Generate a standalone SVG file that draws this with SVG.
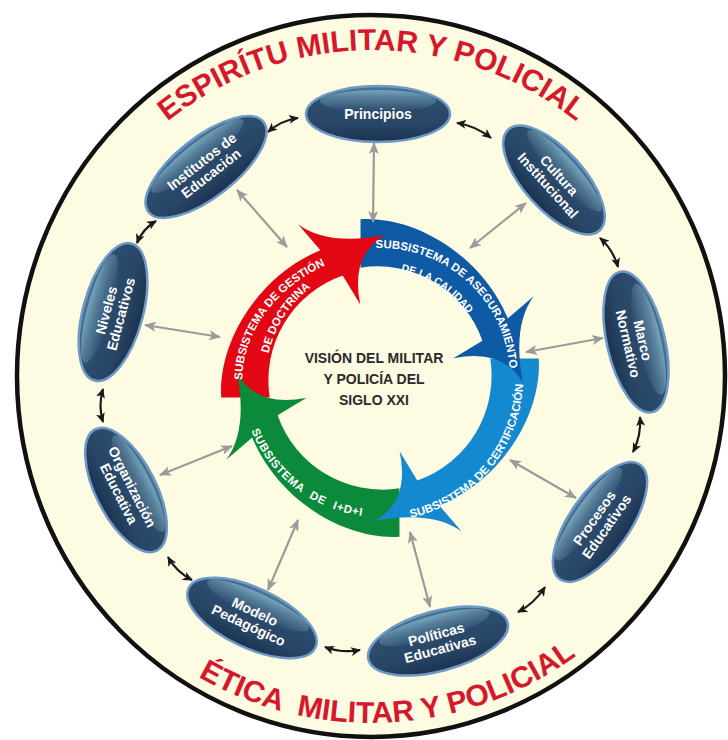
<svg xmlns="http://www.w3.org/2000/svg" width="728" height="740" viewBox="0 0 728 740">
<defs>
<style>
.node{fill:url(#ng);stroke:#6F9AC6;stroke-width:2.5}
.gloss{fill:url(#gl)}
.nt{font-family:"Liberation Sans",Arial,sans-serif;font-weight:bold;font-size:14px;fill:#fff;text-anchor:middle}
.title{font-family:"Liberation Sans",Arial,sans-serif;font-weight:bold;font-size:30px;fill:#D7182A}
.rt{font-family:"Liberation Sans",Arial,sans-serif;font-weight:bold;font-size:11.5px;fill:#fff}
.ct{font-family:"Liberation Sans",Arial,sans-serif;font-weight:bold;font-size:14px;fill:#2a2a2a;text-anchor:middle}
.ga{fill:none;stroke:#9B9B9B;stroke-width:2.2;marker-start:url(#mg);marker-end:url(#mg)}
.ba{fill:none;stroke:#1A1A1A;stroke-width:2.2;marker-start:url(#mb);marker-end:url(#mb)}
</style>
<linearGradient id="ng" x1="0" y1="0" x2="0" y2="1">
<stop offset="0" stop-color="#4F7D9E"/>
<stop offset="0.2" stop-color="#2D4F71"/>
<stop offset="0.7" stop-color="#284565"/>
<stop offset="1" stop-color="#1B3250"/>
</linearGradient>
<linearGradient id="gl" x1="0" y1="0" x2="0" y2="1">
<stop offset="0" stop-color="#9FD0E0" stop-opacity="0.55"/>
<stop offset="1" stop-color="#9FD0E0" stop-opacity="0"/>
</linearGradient>
<marker id="mg" markerUnits="userSpaceOnUse" markerWidth="12" markerHeight="10" refX="11" refY="5" orient="auto-start-reverse" viewBox="0 0 12 10"><path d="M0,0 L12,5 L0,10 L3,5 Z" fill="#9B9B9B"/></marker>
<marker id="mb" markerUnits="userSpaceOnUse" markerWidth="10" markerHeight="9" refX="9" refY="4.5" orient="auto-start-reverse" viewBox="0 0 10 9"><path d="M0,0 L10,4.5 L0,9 L2.5,4.5 Z" fill="#1A1A1A"/></marker>
<path id="bandP" d="M269.7,397.4 L221.2,397.5 C218,340 260,275 320.4,250.2 L324.9,248.2 L346.3,274.3 L342.7,275.6 A111,111 0 0 0 269.7,397.4 Z"/>
<path id="headP" d="M320.4,250.2 L298.3,224.4 Q328,246 385,235 Q350,255 360.3,304.6 L342.7,275.6 Z"/>
<path id="tp-top" d="M49,321 A328,328 0 0 1 695,321"/>
<path id="tp-bot" d="M29.3,436.3 A347,347 0 0 0 712.7,436.3"/>
<path id="tr1" d="M243.3,397.2 C234.4,334.2 280.9,278.7 341.4,259.1"/>
<path id="tr2" d="M266.4,387.9 A114,114 0 0 1 341.0,270.9"/>
<path id="tb1" d="M361.9,249.3 A130,130 0 0 1 509.9,382.5"/>
<path id="tb2" d="M370.5,269.4 A109,109 0 0 1 482.4,340.7"/>
<path id="tl1" d="M392.5,520.5 A143,143 0 0 0 522.5,365.5"/>
<path id="tg1" d="M241.5,390.1 A139,139 0 0 0 404.1,514.9"/>
</defs>

<rect width="728" height="740" fill="#ffffff"/>
<ellipse id="outer-circle" cx="371" cy="376" rx="354" ry="361" fill="#FEFBE3" stroke="#111" stroke-width="4.5"/>

<g id="titles">
<text class="title" text-anchor="middle"><textPath href="#tp-top" startOffset="50%">ESPIRÍTU MILITAR Y POLICIAL</textPath></text>
<text class="title" text-anchor="middle" xml:space="preserve"><textPath href="#tp-bot" startOffset="52%">ÉTICA  MILITAR Y POLICIAL</textPath></text>
</g>

<g id="ring">
<g id="bands">
<use href="#bandP" fill="#E30613"/>
<use href="#bandP" fill="#0F5AA5" transform="rotate(90 380 378)"/>
<use href="#bandP" fill="#1589D0" transform="rotate(180 380 378)"/>
<use href="#bandP" fill="#0B8A3B" transform="rotate(270 380 378)"/>
</g>
<g id="heads">
<use href="#headP" fill="#E30613"/>
<use href="#headP" fill="#0F5AA5" transform="rotate(90 380 378)"/>
<use href="#headP" fill="#1589D0" transform="rotate(180 380 378)"/>
<use href="#headP" fill="#0B8A3B" transform="rotate(270 380 378)"/>
</g>
<g id="ring-labels">
<text class="rt" text-anchor="middle"><textPath href="#tr1" startOffset="50%">SUBSISTEMA DE GESTIÓN</textPath></text>
<text class="rt" text-anchor="middle"><textPath href="#tr2" startOffset="50%">DE DOCTRINA</textPath></text>
<text class="rt" text-anchor="middle"><textPath href="#tb1" startOffset="50%">SUBSISTEMA DE ASEGURAMIENTO</textPath></text>
<text class="rt" text-anchor="middle" style="font-size:10.5px"><textPath href="#tb2" startOffset="50%">DE LA CALIDAD</textPath></text>
<text class="rt" text-anchor="middle"><textPath href="#tl1" startOffset="50%">SUBSISTEMA DE CERTIFICACIÓN</textPath></text>
<text class="rt" text-anchor="middle" style="letter-spacing:0.6px;word-spacing:5px"><textPath href="#tg1" startOffset="50%">SUBSISTEMA DE I+D+I</textPath></text>
</g>
</g>

<g id="center-text">
<text class="ct" x="374" y="363">VISIÓN DEL MILITAR</text>
<text class="ct" x="374" y="384">Y POLICÍA DEL</text>
<text class="ct" x="374" y="405">SIGLO XXI</text>
</g>

<g id="connectors">
<path class="ga" d="M374,143 L373,222"/>
<path class="ga" d="M237,190 L287,247"/>
<path class="ga" d="M526,203 L470,248"/>
<path class="ga" d="M145,325 L220,337"/>
<path class="ga" d="M160,475 L232,446"/>
<path class="ga" d="M298,520 L268,590"/>
<path class="ga" d="M410,532 L430,607"/>
<path class="ga" d="M510,460 L576,498"/>
<path class="ga" d="M526,352 L603,338"/>
<path class="ba" d="M268,132 Q281.3,120.3 298,118"/>
<path class="ba" d="M457,123 Q475.8,125.9 491,138"/>
<path class="ba" d="M600,238 Q613.4,250.1 618,267"/>
<path class="ba" d="M640,417 Q641.4,435.5 633,452"/>
<path class="ba" d="M545,587 Q534.4,603.6 518,612"/>
<path class="ba" d="M360,650 Q341.9,653.5 325,647"/>
<path class="ba" d="M192,580 Q176.4,572 168,557"/>
<path class="ba" d="M103,422 Q98,406 103,389"/>
<path class="ba" d="M137,243 Q142.3,229.3 156,221"/>
</g>

<g id="node-principios" transform="translate(378,114)">
<ellipse class="node" rx="72" ry="28"/>
<ellipse class="gloss" cy="-13" rx="58" ry="11"/>
<text class="nt" y="5">Principios</text>
</g>
<g id="node-institutos" transform="translate(206,167) rotate(-38)">
<ellipse class="node" rx="73" ry="30"/>
<ellipse class="gloss" cy="-14" rx="58" ry="12"/>
<text class="nt" y="-2">Institutos de</text>
<text class="nt" y="13">Educación</text>
</g>
<g id="node-cultura" transform="translate(554,180) rotate(48)">
<ellipse class="node" rx="68" ry="30"/>
<ellipse class="gloss" cy="-14" rx="54" ry="12"/>
<text class="nt" y="-2">Cultura</text>
<text class="nt" y="13">Institucional</text>
</g>
<g id="node-marco" transform="translate(636,342) rotate(77)">
<ellipse class="node" rx="72" ry="29"/>
<ellipse class="gloss" cy="-13" rx="57" ry="12"/>
<text class="nt" y="-2">Marco</text>
<text class="nt" y="13">Normativo</text>
</g>
<g id="node-procesos" transform="translate(600,522) rotate(-55)">
<ellipse class="node" rx="70" ry="30"/>
<ellipse class="gloss" cy="-14" rx="56" ry="12"/>
<text class="nt" y="-2">Procesos</text>
<text class="nt" y="13">Educativos</text>
</g>
<g id="node-politicas" transform="translate(438,641) rotate(-15)">
<ellipse class="node" rx="72" ry="30"/>
<ellipse class="gloss" cy="-14" rx="57" ry="12"/>
<text class="nt" y="-2">Políticas</text>
<text class="nt" y="13">Educativas</text>
</g>
<g id="node-modelo" transform="translate(252,618) rotate(25)">
<ellipse class="node" rx="70" ry="30"/>
<ellipse class="gloss" cy="-14" rx="56" ry="12"/>
<text class="nt" y="-2">Modelo</text>
<text class="nt" y="13">Pedagógico</text>
</g>
<g id="node-organizacion" transform="translate(126,490) rotate(63)">
<ellipse class="node" rx="68" ry="30"/>
<ellipse class="gloss" cy="-14" rx="54" ry="12"/>
<text class="nt" y="-2">Organización</text>
<text class="nt" y="13">Educativa</text>
</g>
<g id="node-niveles" transform="translate(113,312) rotate(-75)">
<ellipse class="node" rx="71" ry="30"/>
<ellipse class="gloss" cy="-14" rx="56" ry="12"/>
<text class="nt" y="-2">Niveles</text>
<text class="nt" y="13">Educativos</text>
</g>
</svg>
